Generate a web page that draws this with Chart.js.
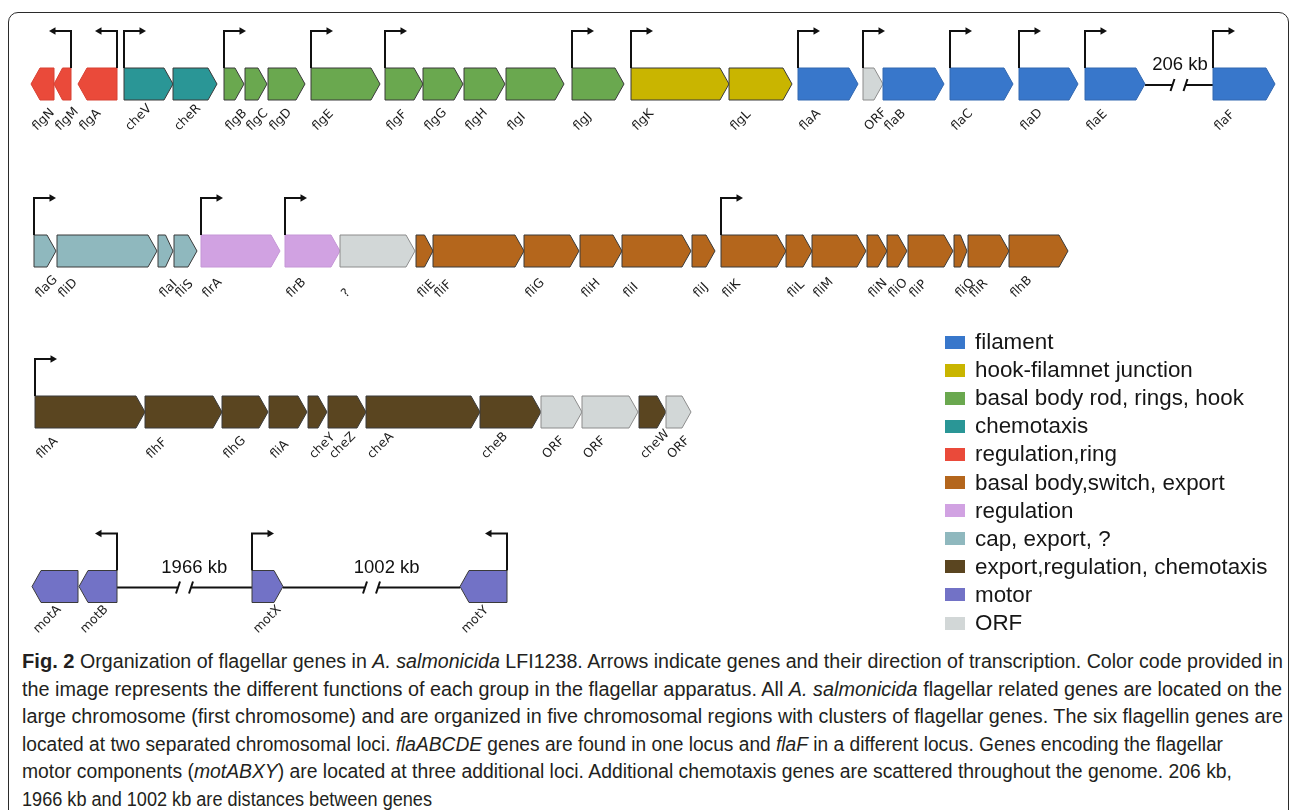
<!DOCTYPE html>
<html>
<head>
<meta charset="utf-8">
<script src="https://cdn.jsdelivr.net/npm/chart.js@4.4.0/dist/chart.umd.min.js"></script>
<style>
  body { margin: 0; background: #fff; }
  #fig { position: relative; width: 1295px; height: 810px; overflow: hidden; font-family: "Liberation Sans", Arial, sans-serif; }
  #frame { position: absolute; left: 8px; top: 12px; width: 1279px; height: 840px; border: 1.5px solid #2b2b2b; border-radius: 10px; }
  #map { position: absolute; left: 0; top: 0; }
  #legend { position: absolute; left: 0; top: 0; }
  .lg-sw { position: absolute; left: 945px; width: 20px; height: 13px; }
  .lg-tx { position: absolute; left: 975px; font-size: 22.4px; line-height: 24px; color: #161616; white-space: nowrap; }
  #caption { position: absolute; left: 22px; top: 648px; color: #231f20; font-size: 19.5px; }
  .cl { display: block; height: 27.5px; line-height: 27.5px; white-space: nowrap; transform-origin: 0 50%; width: max-content; }
  .cl b { font-size: 20px; }
</style>
</head>
<body>
<div id="fig">
  <div id="frame"></div>
  <canvas id="map" width="1295" height="640"></canvas>
  <div id="legend"></div>
  <div id="caption">
    <span class="cl"><b>Fig. 2</b> Organization of flagellar genes in <i>A. salmonicida</i> LFI1238. Arrows indicate genes and their direction of transcription. Color code provided in</span>
    <span class="cl">the image represents the different functions of each group in the flagellar apparatus. All <i>A. salmonicida</i> flagellar related genes are located on the</span>
    <span class="cl">large chromosome (first chromosome) and are organized in five chromosomal regions with clusters of flagellar genes. The six flagellin genes are</span>
    <span class="cl">located at two separated chromosomal loci. <i>flaABCDE</i> genes are found in one locus and <i>flaF</i> in a different locus. Genes encoding the flagellar</span>
    <span class="cl">motor components (<i>motABXY</i>) are located at three additional loci. Additional chemotaxis genes are scattered throughout the genome. 206 kb,</span>
    <span class="cl">1966 kb and 1002 kb are distances between genes</span>
  </div>
</div>
<script>
// --- functional groups ---
const groupKeys   = ['filament','junction','rod','chemo','regRing','switch','regulation','cap','exportReg','motor','orf'];
const groupLabels = ['filament','hook-filamnet junction','basal body rod, rings, hook','chemotaxis','regulation,ring',
                     'basal body,switch, export','regulation','cap, export, ?','export,regulation, chemotaxis','motor','ORF'];
const groupColors = ['#3877cb','#c9b500','#6aa84f','#2a9696','#ea4a3a','#b4661c','#d1a2e2','#8fb8be','#5a4520','#7272c6','#d2d7d7'];

// --- genes (track, name, position, strand, group) ---
const geneRow    = [0,0,0,0,0,0,0,0,0,0,0,0,0,0,0,0,0,0,0,0,0,0,0,
                    1,1,1,1,1,1,1,1,1,1,1,1,1,1,1,1,1,1,1,1,1,1,
                    2,2,2,2,2,2,2,2,2,2,2,2,
                    3,3,3,3];
const geneName   = ['flgN','flgM','flgA','cheV','cheR','flgB','flgC','flgD','flgE','flgF','flgG','flgH','flgI','flgJ','flgK','flgL','flaA','ORF','flaB','flaC','flaD','flaE','flaF',
                    'flaG','fliD','flaI','fliS','flrA','flrB','?','fliE','fliF','fliG','fliH','fliI','fliJ','fliK','fliL','fliM','fliN','fliO','fliP','fliQ','fliR','flhB',
                    'flhA','flhF','flhG','fliA','cheY','cheZ','cheA','cheB','ORF','ORF','cheW','ORF',
                    'motA','motB','motX','motY'];
const geneStart  = [31,54,78,124,173,224,245,268,311,385,423,464,506,572,631,729,798,863,883,950,1019,1085,1213,
                    34,57,158,174,201,285,340,416,433,524,580,622,692,721,786,812,867,887,908,954,968,1009,
                    35,145,222,269,308,328,366,480,541,582,639,666,
                    32,79,252,460];
const geneEnd    = [54,71,117,173,217,244,267,305,380,423,463,505,564,624,729,792,858,883,944,1013,1078,1145,1275,
                    56,157,173,197,280,340,415,433,524,579,622,691,715,786,812,866,887,907,953,967,1009,1068,
                    145,222,268,307,327,366,480,541,582,638,666,691,
                    78,117,283,507];
const geneStrand = [-1,-1,-1,1,1,1,1,1,1,1,1,1,1,1,1,1,1,1,1,1,1,1,1,
                    1,1,1,1,1,1,1,1,1,1,1,1,1,1,1,1,1,1,1,1,1,1,
                    1,1,1,1,1,1,1,1,1,1,1,1,
                    -1,-1,1,-1];
const geneGroup  = ['regRing','regRing','regRing','chemo','chemo','rod','rod','rod','rod','rod','rod','rod','rod','rod','junction','junction','filament','orf','filament','filament','filament','filament','filament',
                    'cap','cap','cap','cap','regulation','regulation','orf','switch','switch','switch','switch','switch','switch','switch','switch','switch','switch','switch','switch','switch','switch','switch',
                    'exportReg','exportReg','exportReg','exportReg','exportReg','exportReg','exportReg','exportReg','orf','orf','exportReg','orf',
                    'motor','motor','motor','motor'];

// genes that carry a promoter arrow (index into the gene arrays)
const promoterGenes = [1,2,3,5,8,9,13,14,16,17,19,20,21,22, 23,27,28,36, 45, 58,59,60];

// chromosomal gaps drawn as broken lines
const gapRow   = [0, 3, 3];
const gapFrom  = [1145, 117, 283];
const gapTo    = [1213, 252, 460];
const gapLabel = ['206 kb', '1966 kb', '1002 kb'];

// --- layout ---
const trackY = [84, 251, 412, 586.5];
const geneHalf = 16, promRise = 37, promLen = 22;
const legendTop = 342, legendStep = 28.1;
const captionRight = [1283, 1282, 1283, 1223, 1232, 432];

function colorOf(g){ return groupColors[groupKeys.indexOf(g)]; }
function strokeOf(g){
  if (g === 'orf') return '#8c8c8c';
  if (g === 'regulation') return '#c596d6';
  if (g === 'filament') return '#3368b0';
  if (g === 'regRing') return '#d84032';
  return '#3a3a3a';
}

const geneMap = {
  id: 'geneMap',
  afterDatasetsDraw(chart) {
    const ctx = chart.ctx, x = chart.scales.x, y = chart.scales.y;
    ctx.save();

    // broken connector lines
    gapFrom.forEach((f, i) => {
      const yc = y.getPixelForValue(trackY[gapRow[i]]) + 1;
      const x0 = x.getPixelForValue(f), x1 = x.getPixelForValue(gapTo[i]);
      const mid = (x0 + x1) / 2, a = mid - 6.5, b = mid + 6.5;
      ctx.strokeStyle = '#111'; ctx.lineWidth = 2;
      ctx.beginPath();
      ctx.moveTo(x0, yc); ctx.lineTo(a, yc);
      ctx.moveTo(b, yc); ctx.lineTo(x1, yc);
      ctx.moveTo(a - 2, yc + 6); ctx.lineTo(a + 2, yc - 6);
      ctx.moveTo(b - 2, yc + 6); ctx.lineTo(b + 2, yc - 6);
      ctx.stroke();
      // distance label sits a little right of the break on long gaps
      const shift = Math.max(0, (x1 - x0 - 60) * 0.13);
      ctx.fillStyle = '#111';
      ctx.font = '18.5px "Liberation Sans", Arial, sans-serif';
      ctx.textAlign = 'center'; ctx.textBaseline = 'middle';
      ctx.fillText(gapLabel[i], mid + shift, yc - 20);
    });

    // gene arrows
    geneName.forEach((name, i) => {
      const s = x.getPixelForValue(geneStart[i]), e = x.getPixelForValue(geneEnd[i]);
      const yc = y.getPixelForValue(trackY[geneRow[i]]);
      const top = y.getPixelForValue(trackY[geneRow[i]] - geneHalf);
      const bot = y.getPixelForValue(trackY[geneRow[i]] + geneHalf);
      const h = Math.min(9, (e - s) * 0.5);
      ctx.beginPath();
      if (geneStrand[i] > 0) {
        ctx.moveTo(s, top); ctx.lineTo(e - h, top); ctx.lineTo(e, yc); ctx.lineTo(e - h, bot); ctx.lineTo(s, bot);
      } else {
        ctx.moveTo(e, top); ctx.lineTo(s + h, top); ctx.lineTo(s, yc); ctx.lineTo(s + h, bot); ctx.lineTo(e, bot);
      }
      ctx.closePath();
      ctx.fillStyle = colorOf(geneGroup[i]);
      ctx.fill();
      ctx.strokeStyle = strokeOf(geneGroup[i]); ctx.lineWidth = 1;
      ctx.stroke();

      // rotated gene name
      ctx.save();
      ctx.translate(s + 6, bot + 31);
      ctx.rotate(-Math.PI / 4);
      ctx.fillStyle = '#1e1e1e';
      ctx.font = '12.5px "DejaVu Sans", Verdana, sans-serif';
      ctx.textAlign = 'left'; ctx.textBaseline = 'alphabetic';
      ctx.fillText(name, 0, 0);
      ctx.restore();
    });

    // promoter arrows
    ctx.strokeStyle = '#111'; ctx.fillStyle = '#111'; ctx.lineWidth = 2;
    promoterGenes.forEach(g => {
      const dir = geneStrand[g];
      const px = x.getPixelForValue(dir > 0 ? geneStart[g] : geneEnd[g]);
      const top = y.getPixelForValue(trackY[geneRow[g]] - geneHalf);
      const py = y.getPixelForValue(trackY[geneRow[g]] - geneHalf - promRise);
      const tip = px + dir * promLen;
      ctx.beginPath();
      ctx.moveTo(px, top); ctx.lineTo(px, py); ctx.lineTo(tip - dir * 4, py);
      ctx.stroke();
      ctx.beginPath();
      ctx.moveTo(tip, py); ctx.lineTo(tip - dir * 6.5, py - 3.8); ctx.lineTo(tip - dir * 6.5, py + 3.8);
      ctx.closePath(); ctx.fill();
    });

    ctx.restore();
  }
};

new Chart(document.getElementById('map'), {
  type: 'scatter',
  data: { datasets: [{ data: geneStart.map((s, i) => ({ x: (s + geneEnd[i]) / 2, y: trackY[geneRow[i]] })), pointRadius: 0 }] },
  options: {
    responsive: false,
    animation: false,
    layout: { padding: 0 },
    plugins: { legend: { display: false }, tooltip: { enabled: false } },
    scales: {
      x: { type: 'linear', min: 0, max: 1295, display: false },
      y: { type: 'linear', min: 0, max: 640, reverse: true, display: false }
    }
  },
  plugins: [geneMap]
});

// colour key
const legendEl = document.getElementById('legend');
groupKeys.forEach((k, i) => {
  const yc = legendTop + i * legendStep;
  const sw = document.createElement('div');
  sw.className = 'lg-sw';
  sw.style.top = (yc - 6.5) + 'px';
  sw.style.background = groupColors[i];
  const tx = document.createElement('div');
  tx.className = 'lg-tx';
  tx.style.top = (yc - 12) + 'px';
  tx.textContent = groupLabels[i];
  legendEl.appendChild(sw); legendEl.appendChild(tx);
});

// fit caption lines to their measure
function fitCaption(){
  document.querySelectorAll('.cl').forEach((el, i) => {
    el.style.transform = 'none';
    const w = el.getBoundingClientRect().width;
    el.style.transform = 'scaleX(' + ((captionRight[i] - 22) / w) + ')';
  });
}
fitCaption();
if (document.fonts) document.fonts.ready.then(fitCaption);
</script>
</body>
</html>
